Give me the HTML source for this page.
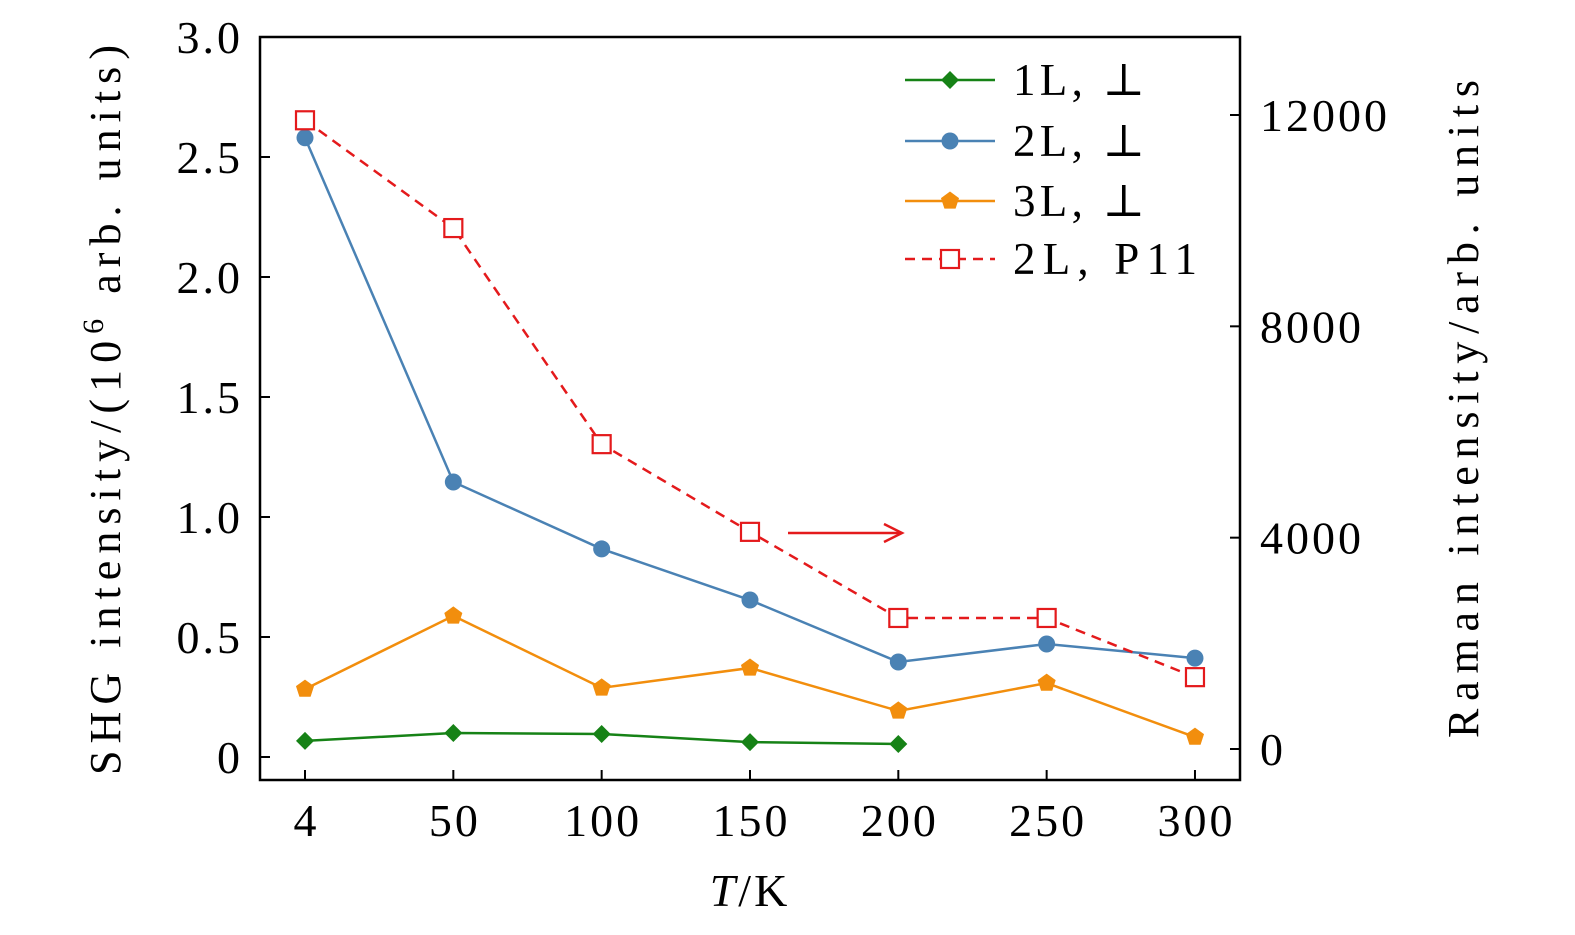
<!DOCTYPE html>
<html><head><meta charset="utf-8"><style>
html,body{margin:0;padding:0;background:#fff;}
svg{display:block;font-family:"Liberation Serif","DejaVu Serif",serif;}
</style></head><body>
<svg id="chart" width="1575" height="935" viewBox="0 0 1575 935" xmlns="http://www.w3.org/2000/svg"></svg>
<script>
const categories = ["4","50","100","150","200","250","300"];
const series1L = [0.067,0.100,0.096,0.062,0.054];
const series2L = [2.58,1.146,0.867,0.654,0.396,0.471,0.412];
const series3L = [0.283,0.588,0.288,0.371,0.192,0.308,0.083];
const seriesRaman = [11900,9860,5770,4110,2480,2480,1360];
const leftTicks = [0,0.5,1.0,1.5,2.0,2.5,3.0];
const leftTickLabels = ["0","0.5","1.0","1.5","2.0","2.5","3.0"];
const rightTicks = [0,4000,8000,12000];

const NS="http://www.w3.org/2000/svg";
const svg=document.getElementById('chart');
const L=260,R=1240,T=37,B=780;
const xs=i=>305+i*148.33;
const yL=v=>757-v*240;
const yR=v=>749-v*(634/12000);
function el(tag,attrs,parent){const e=document.createElementNS(NS,tag);for(const k in attrs)e.setAttribute(k,attrs[k]);(parent||svg).appendChild(e);return e;}

const frame=el('rect',{x:L,y:T,width:R-L,height:B-T,fill:'none',stroke:'#000','stroke-width':2.5});



const NUM={'font-size':46,'letter-spacing':3};
categories.forEach((c,i)=>{
  const t=el('line',{x1:xs(i),x2:xs(i),y1:B,y2:B-10,stroke:'#000','stroke-width':2});
  
  
  const tx=el('text',Object.assign({x:xs(i)+1.5,y:836,'text-anchor':'middle'},NUM));
  tx.textContent=c;
  
  
});
leftTicks.forEach((v,i)=>{
  const t=el('line',{x1:L,x2:L+10,y1:yL(v),y2:yL(v),stroke:'#000','stroke-width':2});
  
  
  const tx=el('text',Object.assign({x:243,y:yL(v)+16,'text-anchor':'end'},NUM));
  tx.textContent=leftTickLabels[i];
  
  
});
rightTicks.forEach(v=>{
  const t=el('line',{x1:R,x2:R-10,y1:yR(v),y2:yR(v),stroke:'#000','stroke-width':2});
  
  
  const tx=el('text',Object.assign({x:1260,y:yR(v)+16,'text-anchor':'start'},NUM));
  tx.textContent=String(v);
  
  
});

let t1=el('text',{x:0,y:0,'font-size':44,'text-anchor':'middle',transform:'translate(120,410) rotate(-90)',textLength:730,lengthAdjust:'spacing'});
t1.innerHTML='SHG intensity/(10<tspan font-size="30" dy="-17">6</tspan><tspan dy="17"> arb. units)</tspan>';


let t2=el('text',{x:0,y:0,'font-size':44,'text-anchor':'middle',transform:'translate(1478,409) rotate(-90)',textLength:658,lengthAdjust:'spacing'});
t2.textContent='Raman intensity/arb. units';


let t3=el('text',{x:750,y:906,'font-size':46,'text-anchor':'middle','letter-spacing':3});
t3.innerHTML='<tspan font-style="italic">T</tspan>/K';



function diamond(g,x,y,c){el('polygon',{points:`${x},${y-9} ${x+9},${y} ${x},${y+9} ${x-9},${y}`,fill:c},g);}
function circ(g,x,y,c){el('circle',{cx:x,cy:y,r:8.5,fill:c},g);}
function pent(g,x,y,c){let p=[];for(let k=0;k<5;k++){const a=-Math.PI/2+k*2*Math.PI/5;p.push((x+9.5*Math.cos(a))+','+(y+9.5*Math.sin(a)));}el('polygon',{points:p.join(' '),fill:c},g);}
function sq(g,x,y,c){el('rect',{x:x-9,y:y-9,width:18,height:18,fill:'#fff',stroke:c,'stroke-width':2.2},g);}

function drawSeries(name,vals,yf,color,marker,dash){
  const g=el('g',{});
  
  
  const pts=vals.map((v,i)=>xs(i)+','+yf(v)).join(' ');
  const a={points:pts,fill:'none',stroke:color,'stroke-width':2.5};
  if(dash)a['stroke-dasharray']='10,7';
  el('polyline',a,g);
  vals.forEach((v,i)=>marker(g,xs(i),yf(v),color));
}
drawSeries('series-3l',series3L,yL,'#f28e0d',pent);
drawSeries('series-1l',series1L,yL,'#168216',diamond);
drawSeries('series-2l',series2L,yL,'#4a82b4',circ);
drawSeries('series-raman-2l-p11',seriesRaman,yR,'#e41a1c',sq,true);

const ar=el('g',{});


el('line',{x1:788,y1:533,x2:900,y2:533,stroke:'#e41a1c','stroke-width':2.5},ar);
el('polyline',{points:'884,524 902,533 884,542',fill:'none',stroke:'#e41a1c','stroke-width':2.5},ar);

const leg=[['1L, ⊥','#168216',diamond,false,132],['2L, ⊥','#4a82b4',circ,false,132],['3L, ⊥','#f28e0d',pent,false,132],['2L, P11','#e41a1c',sq,true,184]];
const ly=[80,141,201,259];
leg.forEach((l,i)=>{
  const g=el('g',{});
  
  
  const a={x1:905,x2:995,y1:ly[i],y2:ly[i],stroke:l[1],'stroke-width':2.5};
  if(l[3])a['stroke-dasharray']='10,7';
  el('line',a,g);
  l[2](g,950,ly[i],l[1]);
  const tx=el('text',{x:1013,y:ly[i]+15,'font-size':45,textLength:l[4],lengthAdjust:'spacing'},g);
  tx.textContent=l[0];
});
</script>
</body></html>
